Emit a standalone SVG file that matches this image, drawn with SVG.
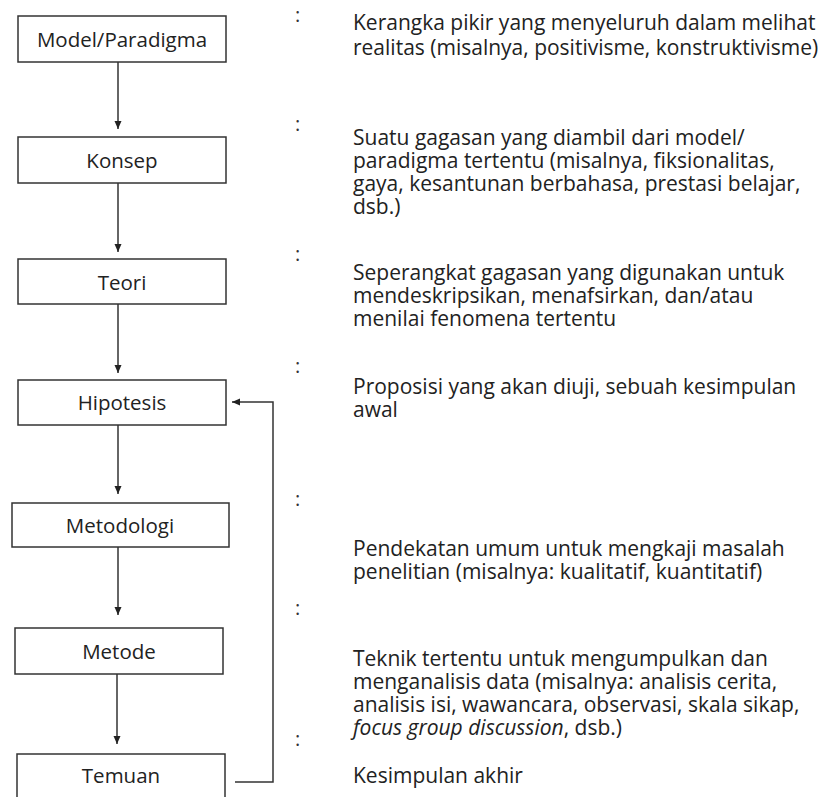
<svg xmlns="http://www.w3.org/2000/svg" width="827" height="797" viewBox="0 0 827 797">
<style>
.box{fill:#fff;stroke:#333;stroke-width:1.5}
.lbl{font-family:"Open Sans","Noto Sans",sans-serif;font-size:20.5px;fill:#222;text-anchor:middle;dominant-baseline:central}
.d{font-family:"Open Sans","Noto Sans",sans-serif;font-size:21px;fill:#222}
.c{font-family:"Open Sans","Noto Sans",sans-serif;font-size:20px;fill:#333}
.ln{fill:none;stroke:#333;stroke-width:1.5}
</style>
<defs>
<marker id="ah" viewBox="0 0 8 10" refX="8" refY="5" markerWidth="8" markerHeight="10" markerUnits="userSpaceOnUse" orient="auto">
<path d="M0,1.5 L8,5 L0,8.5 Z" fill="#222"/>
</marker>
</defs>
<rect width="827" height="797" fill="#fff"/>
<g id="connectors">
<line class="ln" x1="118" y1="62" x2="118" y2="129" marker-end="url(#ah)"/>
<line class="ln" x1="118" y1="183" x2="118" y2="252" marker-end="url(#ah)"/>
<line class="ln" x1="118" y1="304" x2="118" y2="373" marker-end="url(#ah)"/>
<line class="ln" x1="118" y1="425" x2="118" y2="494" marker-end="url(#ah)"/>
<line class="ln" x1="118" y1="547" x2="118" y2="615" marker-end="url(#ah)"/>
<line class="ln" x1="117" y1="674" x2="117" y2="744" marker-end="url(#ah)"/>
<polyline class="ln" points="235,782 273,782 273,402 232,402" marker-end="url(#ah)"/>
</g>
<g id="n1"><rect class="box" x="18" y="16" width="208" height="46"/><text class="lbl" x="122" y="39">Model/Paradigma</text></g>
<g id="n2"><rect class="box" x="18" y="137" width="208" height="46"/><text class="lbl" x="122" y="160">Konsep</text></g>
<g id="n3"><rect class="box" x="18" y="259" width="208" height="45"/><text class="lbl" x="122" y="282">Teori</text></g>
<g id="n4"><rect class="box" x="18" y="380" width="208" height="45"/><text class="lbl" x="122" y="402">Hipotesis</text></g>
<g id="n5"><rect class="box" x="12" y="503" width="217" height="44"/><text class="lbl" x="120" y="525">Metodologi</text></g>
<g id="n6"><rect class="box" x="15" y="628" width="208" height="46"/><text class="lbl" x="119" y="651">Metode</text></g>
<g id="n7"><rect class="box" x="17" y="754" width="208" height="60"/><text class="lbl" x="121" y="775">Temuan</text></g>
<g id="descriptions">
<text class="c" x="295" y="22">:</text>
<text class="c" x="295" y="131">:</text>
<text class="c" x="295" y="261">:</text>
<text class="c" x="295" y="373">:</text>
<text class="c" x="295" y="506">:</text>
<text class="c" x="295" y="615">:</text>
<text class="c" x="295" y="746">:</text>
<text class="d" x="353" y="30">Kerangka pikir yang menyeluruh dalam melihat<tspan x="353" y="55">realitas (misalnya, positivisme, konstruktivisme)</tspan></text>
<text class="d" x="353" y="145">Suatu gagasan yang diambil dari model/<tspan x="353" y="168">paradigma tertentu (misalnya, fiksionalitas,</tspan><tspan x="353" y="191">gaya, kesantunan berbahasa, prestasi belajar,</tspan><tspan x="353" y="214">dsb.)</tspan></text>
<text class="d" x="353" y="280">Seperangkat gagasan yang digunakan untuk<tspan x="353" y="303">mendeskripsikan, menafsirkan, dan/atau</tspan><tspan x="353" y="326">menilai fenomena tertentu</tspan></text>
<text class="d" x="353" y="394">Proposisi yang akan diuji, sebuah kesimpulan<tspan x="353" y="417">awal</tspan></text>
<text class="d" x="353" y="556">Pendekatan umum untuk mengkaji masalah<tspan x="353" y="579">penelitian (misalnya: kualitatif, kuantitatif)</tspan></text>
<text class="d" x="353" y="666">Teknik tertentu untuk mengumpulkan dan<tspan x="353" y="689">menganalisis data (misalnya: analisis cerita,</tspan><tspan x="353" y="712">analisis isi, wawancara, observasi, skala sikap,</tspan><tspan x="353" y="735"><tspan font-style="italic">focus group discussion</tspan>, dsb.)</tspan></text>
<text class="d" x="353" y="783">Kesimpulan akhir</text>
</g>
</svg>
